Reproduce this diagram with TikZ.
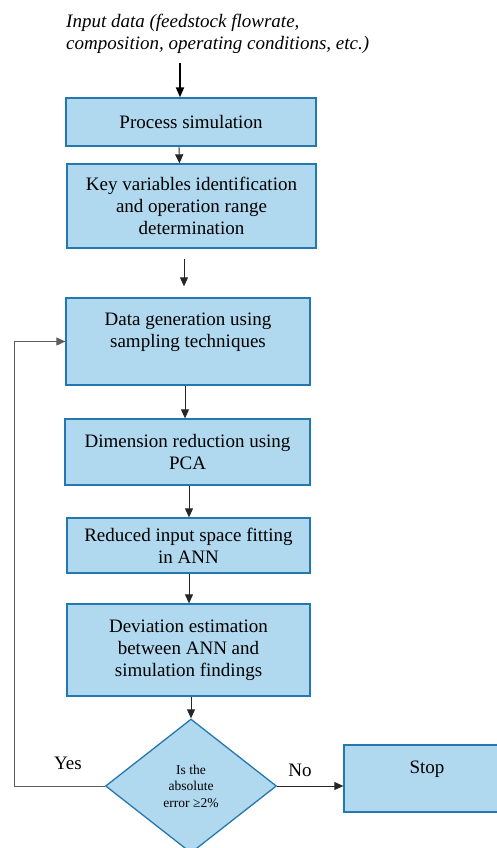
\documentclass[tikz,border=0pt]{standalone}
\usepackage{fontspec}
\setmainfont{Liberation Serif}
\usetikzlibrary{shapes.geometric,arrows.meta}
\definecolor{boxfill}{RGB}{176,216,238}
\definecolor{boxline}{RGB}{36,120,176}
\definecolor{loopgray}{RGB}{95,95,95}
\tikzset{
  stepbox/.style={draw=boxline, fill=boxfill, line width=1.3pt, align=center, inner sep=0pt,
    font=\fontsize{19}{22}\selectfont},
  decision/.style={diamond, draw=boxline, fill=boxfill, line width=1.3pt, align=center, inner sep=0pt,
    minimum width=171pt, minimum height=134pt, font=\fontsize{13.5}{16.5}\selectfont},
  flow/.style={draw=black!85, line width=0.9pt, -{Triangle[length=9pt,width=8pt]}},
  loopline/.style={draw=loopgray, line width=0.9pt, -{Triangle[length=9pt,width=8pt]}},
  lbl/.style={font=\fontsize{19}{22}\selectfont, inner sep=0pt}
}
\begin{document}
\begin{tikzpicture}[x=1pt,y=-1pt]
\useasboundingbox (0,0) rectangle (497,848);
\node[anchor=west, align=left, inner sep=0pt, font=\fontsize{19}{22}\selectfont\itshape] (input) at (66,34)
  {Input data (feedstock flowrate,\\composition, operating conditions, etc.)};
\coordinate (instart) at (180,63);
\node[stepbox, minimum width=250pt, minimum height=48pt] (proc) at (191,122) {Process simulation};
\node[stepbox, minimum width=249pt, minimum height=84pt] (key) at (191.5,206)
  {Key variables identification\\and operation range\\determination};
\node[stepbox, minimum width=244pt, minimum height=87pt] (data) at (188,341.5)
  {Data generation using\\sampling techniques\\ \mbox{}};
\node[stepbox, minimum width=245pt, minimum height=66pt] (dim) at (187.5,452)
  {Dimension reduction using\\PCA};
\node[stepbox, minimum width=243pt, minimum height=55pt] (red) at (188.5,545.5)
  {Reduced input space fitting\\in ANN};
\node[stepbox, minimum width=243pt, minimum height=92pt] (dev) at (188.5,650)
  {Deviation estimation\\between ANN and\\simulation findings};
\node[decision] (dec) at (191,786) {Is the\\absolute\\error ≥2\%};
\node[stepbox, minimum width=166pt, minimum height=67pt] (stop) at (427,778.5) {Stop\\ \mbox{}};
\coordinate (loopcorner) at (14,786);
\node[lbl] (yes) at (68,763) {Yes};
\node[lbl] (no) at (300,770) {No};

\draw[line width=1.8pt, -{Triangle[length=10pt,width=8pt]}] (instart) -- (instart |- proc.north);
\draw[flow] ([xshift=-12pt]proc.south) -- ([xshift=-12pt]key.north);
\draw[flow, shorten <=10pt, shorten >=11pt] ([xshift=-7.5pt]key.south) -- ([xshift=-7.5pt]key.south |- data.north);
\draw[flow] ([xshift=-3pt]data.south) -- ([xshift=-3pt]data.south |- dim.north);
\draw[flow] ([xshift=1.5pt]dim.south) -- ([xshift=1.5pt]dim.south |- red.north);
\draw[flow] ([xshift=0.5pt]red.south) -- ([xshift=0.5pt]red.south |- dev.north);
\draw[flow] (dev.south -| dec.north) -- (dec.north);
\draw[flow] (dec.east) -- (stop.west |- dec.east);
\draw[loopline] (dec.west) -- (loopcorner) |- (data.west);
\end{tikzpicture}
\end{document}
